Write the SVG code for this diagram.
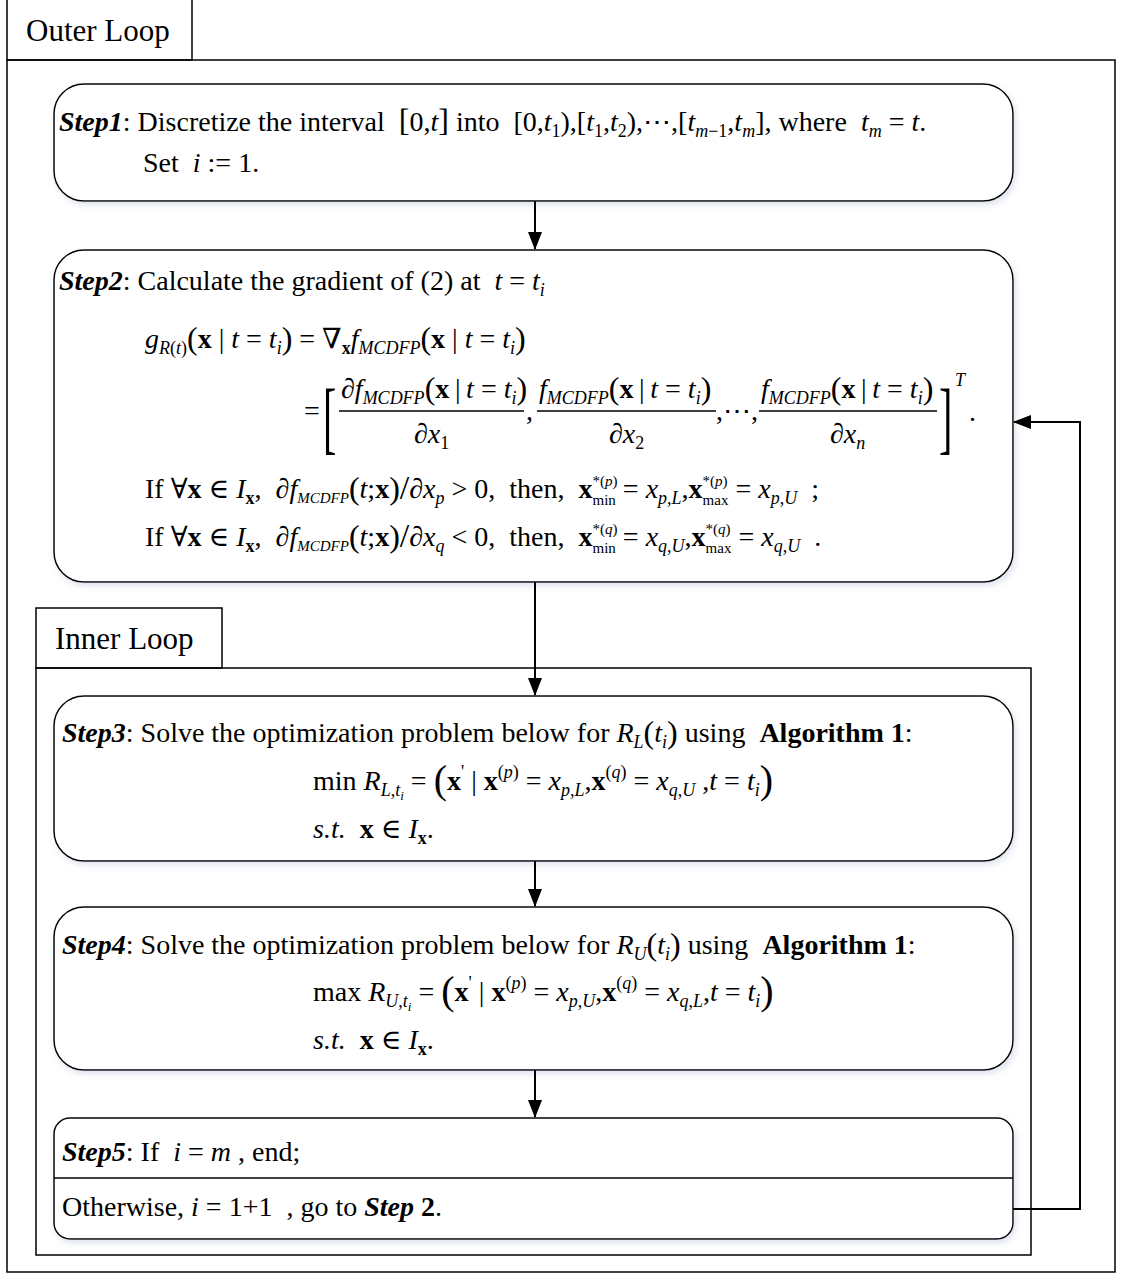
<svg xmlns="http://www.w3.org/2000/svg" width="1121" height="1283" viewBox="0 0 1121 1283">
<defs>
<style>
.frame{fill:none;stroke:#000;stroke-width:1.5}
.box{fill:#fff;stroke:#000;stroke-width:1.5}
.conn{fill:none;stroke:#000;stroke-width:2}
.bar{stroke:#000;stroke-width:1.3}
text{font-family:"Liberation Serif","Times New Roman","DejaVu Serif",serif;font-size:28px;fill:#000}
.lbl{font-size:31px}
.i{font-style:italic}
.b{font-weight:bold}
.bi{font-weight:bold;font-style:italic}
.s{font-size:18px}
.s15{font-size:15px}
.ss{font-size:13px}
.big{font-size:32px}
.big40{font-size:40px}
.brk{font-size:80px}
</style>
<marker id="ah" markerUnits="userSpaceOnUse" markerWidth="18" markerHeight="14" refX="17" refY="7" orient="auto"><path d="M0,0 L18,7 L0,14 z" fill="#000"/></marker>
<filter id="sh" x="-5%" y="-10%" width="110%" height="130%"><feDropShadow dx="2" dy="3" stdDeviation="3" flood-color="#8d9cc0" flood-opacity="0.3"/></filter>
</defs>
<rect width="1121" height="1283" fill="#fff"/>

<g id="outer-loop">
<rect class="frame" x="7" y="-2" width="185" height="62"/>
<rect class="frame" x="7" y="60" width="1108" height="1212"/>
<text class="lbl" x="26" y="41">Outer Loop</text>
</g>

<g id="inner-loop">
<rect class="frame" x="36" y="608" width="186" height="60"/>
<rect class="frame" x="36" y="668" width="995" height="587"/>
<text class="lbl" x="55" y="649">Inner Loop</text>
</g>

<g id="step1">
<rect class="box" filter="url(#sh)" x="54" y="84" width="959" height="117" rx="30"/>
<text x="59" y="131"><tspan class="bi">Step1</tspan>: Discretize the interval&#160; <tspan class="big">[</tspan>0,<tspan class="i">t</tspan><tspan class="big">]</tspan> into&#160; [0,<tspan class="i">t</tspan><tspan class="s" y="137">1</tspan><tspan y="131">),[</tspan><tspan class="i">t</tspan><tspan class="s" y="137">1</tspan><tspan y="131">,</tspan><tspan class="i">t</tspan><tspan class="s" y="137">2</tspan><tspan y="131">),⋯,[</tspan><tspan class="i">t</tspan><tspan class="s i" y="137">m</tspan><tspan class="s">−1</tspan><tspan y="131">,</tspan><tspan class="i">t</tspan><tspan class="s i" y="137">m</tspan><tspan y="131">], where&#160; </tspan><tspan class="i">t</tspan><tspan class="s i" y="137">m</tspan><tspan y="131"> = </tspan><tspan class="i">t</tspan>.</text>
<text x="143" y="172">Set&#160; <tspan class="i">i</tspan> := 1.</text>
</g>

<g id="step2">
<rect class="box" filter="url(#sh)" x="54" y="250" width="959" height="332" rx="30"/>
<text x="59" y="290"><tspan class="bi">Step2</tspan>: Calculate the gradient of (2) at&#160; <tspan class="i">t</tspan> = <tspan class="i">t</tspan><tspan class="s i" y="296">i</tspan></text>
<text x="145" y="348"><tspan class="i">g</tspan><tspan class="s i" y="354">R</tspan><tspan class="s">(</tspan><tspan class="s i">t</tspan><tspan class="s">)</tspan><tspan class="big" y="349">(</tspan><tspan class="b" y="348">x</tspan> | <tspan class="i">t</tspan> = <tspan class="i">t</tspan><tspan class="s i" y="354">i</tspan><tspan class="big" y="349">)</tspan><tspan y="348"> = ∇</tspan><tspan class="s b" y="354">x</tspan><tspan class="i" y="348">f</tspan><tspan class="s i" y="354">MCDFP</tspan><tspan class="big" y="349">(</tspan><tspan class="b" y="348">x</tspan> | <tspan class="i">t</tspan> = <tspan class="i">t</tspan><tspan class="s i" y="354">i</tspan><tspan class="big" y="349">)</tspan></text>
<text x="304" y="420">=</text>
<text class="brk" transform="translate(323,444) scale(0.5,1)" x="0" y="0">[</text>
<text x="341" y="398">∂<tspan class="i">f</tspan><tspan class="s i" y="404">MCDFP</tspan><tspan class="big" y="399">(</tspan><tspan class="b" y="398">x</tspan>&#8201;|&#8201;<tspan class="i">t</tspan> = <tspan class="i">t</tspan><tspan class="s i" y="404">i</tspan><tspan class="big" y="399">)</tspan></text>
<line class="bar" x1="339" y1="411" x2="524" y2="411"/>
<text x="414" y="443">∂<tspan class="i">x</tspan><tspan class="s" y="449">1</tspan></text>
<text x="526" y="420">,</text>
<text x="539" y="398"><tspan class="i">f</tspan><tspan class="s i" y="404">MCDFP</tspan><tspan class="big" y="399">(</tspan><tspan class="b" y="398">x</tspan>&#8201;|&#8201;<tspan class="i">t</tspan> = <tspan class="i">t</tspan><tspan class="s i" y="404">i</tspan><tspan class="big" y="399">)</tspan></text>
<line class="bar" x1="537" y1="411" x2="716" y2="411"/>
<text x="609" y="443">∂<tspan class="i">x</tspan><tspan class="s" y="449">2</tspan></text>
<text x="716" y="420">,⋯,</text>
<text x="761" y="398"><tspan class="i">f</tspan><tspan class="s i" y="404">MCDFP</tspan><tspan class="big" y="399">(</tspan><tspan class="b" y="398">x</tspan>&#8201;|&#8201;<tspan class="i">t</tspan> = <tspan class="i">t</tspan><tspan class="s i" y="404">i</tspan><tspan class="big" y="399">)</tspan></text>
<line class="bar" x1="759" y1="411" x2="937" y2="411"/>
<text x="830" y="443">∂<tspan class="i">x</tspan><tspan class="s i" y="449">n</tspan></text>
<text class="brk" transform="translate(939,444) scale(0.5,1)" x="0" y="0">]</text>
<text class="s i" x="955" y="386">T</text>
<text x="969" y="421">.</text>
<text x="145" y="498">If ∀<tspan class="b">x</tspan> ∈ <tspan class="i">I</tspan><tspan class="s b" y="504">x</tspan><tspan y="498">,&#160; ∂</tspan><tspan class="i">f</tspan><tspan class="s15 i" y="503">MCDFP</tspan><tspan class="big" y="499">(</tspan><tspan class="i" y="498">t</tspan>;<tspan class="b">x</tspan><tspan class="big" y="499">)</tspan><tspan font-size="34" y="499">/</tspan><tspan y="498">∂</tspan><tspan class="i">x</tspan><tspan class="s i" y="504">p</tspan><tspan y="498"> &gt; 0,&#160; then,&#160; </tspan><tspan class="b">x</tspan><tspan class="s15" y="486">*(</tspan><tspan class="s15 i">p</tspan><tspan class="s15">)</tspan><tspan class="s15" dx="-25" y="505">min</tspan><tspan y="498"> = </tspan><tspan class="i">x</tspan><tspan class="s i" y="504">p</tspan><tspan class="s">,</tspan><tspan class="s i">L</tspan><tspan y="498">,</tspan><tspan class="b">x</tspan><tspan class="s15" y="486">*(</tspan><tspan class="s15 i">p</tspan><tspan class="s15">)</tspan><tspan class="s15" dx="-25" y="505">max</tspan><tspan y="498"> = </tspan><tspan class="i">x</tspan><tspan class="s i" y="504">p</tspan><tspan class="s">,</tspan><tspan class="s i">U</tspan><tspan y="498">&#160; ;</tspan></text>
<text x="145" y="546">If ∀<tspan class="b">x</tspan> ∈ <tspan class="i">I</tspan><tspan class="s b" y="552">x</tspan><tspan y="546">,&#160; ∂</tspan><tspan class="i">f</tspan><tspan class="s15 i" y="551">MCDFP</tspan><tspan class="big" y="547">(</tspan><tspan class="i" y="546">t</tspan>;<tspan class="b">x</tspan><tspan class="big" y="547">)</tspan><tspan font-size="34" y="547">/</tspan><tspan y="546">∂</tspan><tspan class="i">x</tspan><tspan class="s i" y="552">q</tspan><tspan y="546"> &lt; 0,&#160; then,&#160; </tspan><tspan class="b">x</tspan><tspan class="s15" y="534">*(</tspan><tspan class="s15 i">q</tspan><tspan class="s15">)</tspan><tspan class="s15" dx="-25" y="553">min</tspan><tspan y="546"> = </tspan><tspan class="i">x</tspan><tspan class="s i" y="552">q</tspan><tspan class="s">,</tspan><tspan class="s i">U</tspan><tspan y="546">,</tspan><tspan class="b">x</tspan><tspan class="s15" y="534">*(</tspan><tspan class="s15 i">q</tspan><tspan class="s15">)</tspan><tspan class="s15" dx="-25" y="553">max</tspan><tspan y="546"> = </tspan><tspan class="i">x</tspan><tspan class="s i" y="552">q</tspan><tspan class="s">,</tspan><tspan class="s i">U</tspan><tspan y="546">&#160; .</tspan></text>
</g>

<g id="step3">
<rect class="box" filter="url(#sh)" x="54" y="696" width="959" height="165" rx="30"/>
<text x="62" y="742"><tspan class="bi">Step3</tspan>: Solve the optimization problem below for <tspan class="i">R</tspan><tspan class="s i" y="748">L</tspan><tspan class="big" y="743">(</tspan><tspan class="i" y="742">t</tspan><tspan class="s i" y="748">i</tspan><tspan class="big" y="743">)</tspan><tspan y="742"> using&#160; </tspan><tspan class="b">Algorithm 1</tspan>:</text>
<text x="313" y="790">min <tspan class="i">R</tspan><tspan class="s i" y="796">L</tspan><tspan class="s">,</tspan><tspan class="s i">t</tspan><tspan class="ss i" y="800">i</tspan><tspan y="790"> = </tspan><tspan class="big40" y="793">(</tspan><tspan class="b" y="790">x</tspan><tspan class="s" y="778">'</tspan><tspan y="790"> | </tspan><tspan class="b">x</tspan><tspan class="s" y="778">(</tspan><tspan class="s i">p</tspan><tspan class="s">)</tspan><tspan y="790"> = </tspan><tspan class="i">x</tspan><tspan class="s i" y="796">p</tspan><tspan class="s">,</tspan><tspan class="s i">L</tspan><tspan y="790">,</tspan><tspan class="b">x</tspan><tspan class="s" y="778">(</tspan><tspan class="s i">q</tspan><tspan class="s">)</tspan><tspan y="790"> = </tspan><tspan class="i">x</tspan><tspan class="s i" y="796">q</tspan><tspan class="s">,</tspan><tspan class="s i">U</tspan><tspan y="790"> ,</tspan><tspan class="i">t</tspan> = <tspan class="i">t</tspan><tspan class="s i" y="796">i</tspan><tspan class="big40" y="793">)</tspan></text>
<text x="313" y="838"><tspan class="i">s.t.</tspan>&#160; <tspan class="b">x</tspan> ∈ <tspan class="i">I</tspan><tspan class="s b" y="844">x</tspan><tspan y="838">.</tspan></text>
</g>

<g id="step4">
<rect class="box" filter="url(#sh)" x="54" y="907" width="959" height="163" rx="30"/>
<text x="62" y="954"><tspan class="bi">Step4</tspan>: Solve the optimization problem below for <tspan class="i">R</tspan><tspan class="s i" y="960">U</tspan><tspan class="big" y="955">(</tspan><tspan class="i" y="954">t</tspan><tspan class="s i" y="960">i</tspan><tspan class="big" y="955">)</tspan><tspan y="954"> using&#160; </tspan><tspan class="b">Algorithm 1</tspan>:</text>
<text x="313" y="1001">max <tspan class="i">R</tspan><tspan class="s i" y="1007">U</tspan><tspan class="s">,</tspan><tspan class="s i">t</tspan><tspan class="ss i" y="1011">i</tspan><tspan y="1001"> = </tspan><tspan class="big40" y="1004">(</tspan><tspan class="b" y="1001">x</tspan><tspan class="s" y="989">'</tspan><tspan y="1001"> | </tspan><tspan class="b">x</tspan><tspan class="s" y="989">(</tspan><tspan class="s i">p</tspan><tspan class="s">)</tspan><tspan y="1001"> = </tspan><tspan class="i">x</tspan><tspan class="s i" y="1007">p</tspan><tspan class="s">,</tspan><tspan class="s i">U</tspan><tspan y="1001">,</tspan><tspan class="b">x</tspan><tspan class="s" y="989">(</tspan><tspan class="s i">q</tspan><tspan class="s">)</tspan><tspan y="1001"> = </tspan><tspan class="i">x</tspan><tspan class="s i" y="1007">q</tspan><tspan class="s">,</tspan><tspan class="s i">L</tspan><tspan y="1001">,</tspan><tspan class="i">t</tspan> = <tspan class="i">t</tspan><tspan class="s i" y="1007">i</tspan><tspan class="big40" y="1004">)</tspan></text>
<text x="313" y="1049"><tspan class="i">s.t.</tspan>&#160; <tspan class="b">x</tspan> ∈ <tspan class="i">I</tspan><tspan class="s b" y="1055">x</tspan><tspan y="1049">.</tspan></text>
</g>

<g id="step5">
<rect class="box" filter="url(#sh)" x="54" y="1118" width="959" height="121" rx="16"/>
<line class="bar" x1="54" y1="1178" x2="1013" y2="1178" stroke-width="1.5"/>
<text x="62" y="1161"><tspan class="bi">Step5</tspan>: If&#160; <tspan class="i">i</tspan> = <tspan class="i">m</tspan> , end;</text>
<text x="62" y="1216">Otherwise,&#160;<tspan class="i">i</tspan> = 1+1&#160; , go to <tspan class="bi">Step</tspan> <tspan class="b">2</tspan>.</text>
</g>

<g id="connectors">
<path class="conn" d="M535,201 V249" marker-end="url(#ah)"/>
<path class="conn" d="M535,582 V695" marker-end="url(#ah)"/>
<path class="conn" d="M535,861 V906" marker-end="url(#ah)"/>
<path class="conn" d="M535,1070 V1117" marker-end="url(#ah)"/>
<path class="conn" d="M1013,1209 H1080 V422 H1014" marker-end="url(#ah)"/>
</g>
</svg>
